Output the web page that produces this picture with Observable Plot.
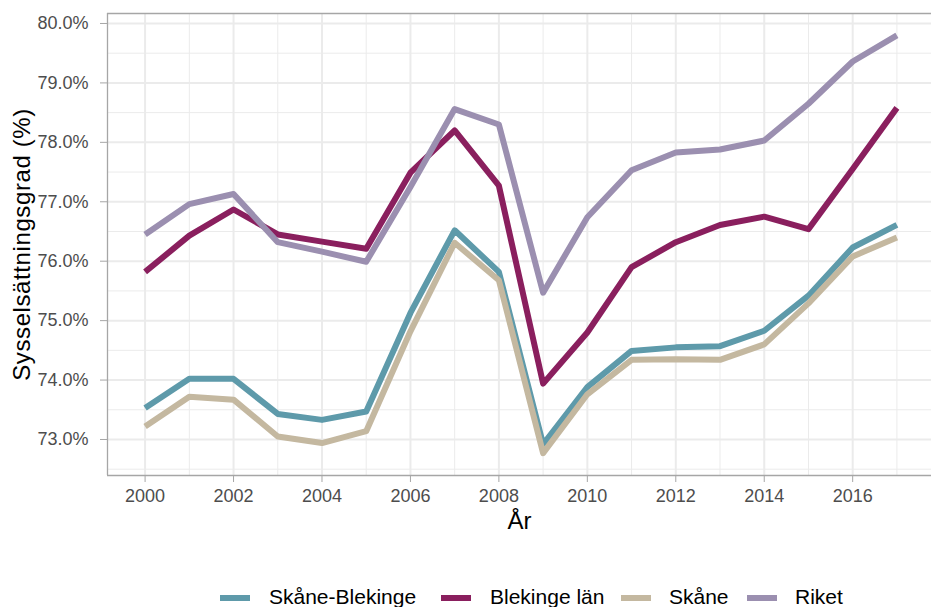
<!DOCTYPE html>
<html>
<head>
<meta charset="utf-8">
<script src="https://cdn.jsdelivr.net/npm/d3@7"></script>
<script src="https://cdn.jsdelivr.net/npm/@observablehq/plot@0.6"></script>
<style>
  html, body { margin: 0; padding: 0; background: #fff; overflow: hidden; }
  #wrap { position: relative; width: 931px; height: 607px; font-family: "Liberation Sans", Arial, sans-serif; }
  #legend { position: absolute; left: 0; top: 584px; width: 931px; height: 26px; }
  .sw { position: absolute; top: 11px; width: 30px; height: 6px; }
  .lb { position: absolute; top: 0; font-size: 21px; line-height: 26px; color: #000; white-space: nowrap; }
  .ytitle { letter-spacing: 0.6px; }
</style>
</head>
<body>
<div id="wrap"><div id="chart"></div><div id="legend"></div></div>
<script>
const years = [2000,2001,2002,2003,2004,2005,2006,2007,2008,2009,2010,2011,2012,2013,2014,2015,2016,2017];
const skaneBlekinge = [73.53,74.02,74.02,73.43,73.33,73.47,75.13,76.52,75.82,72.92,73.88,74.49,74.55,74.57,74.83,75.42,76.23,76.61];
const blekingeLan   = [75.82,76.43,76.87,76.45,76.33,76.21,77.49,78.20,77.27,73.94,74.80,75.90,76.32,76.61,76.75,76.54,77.55,78.58];
const skane         = [73.22,73.72,73.67,73.05,72.94,73.14,74.82,76.31,75.68,72.77,73.76,74.34,74.35,74.34,74.60,75.29,76.08,76.40];
const riket         = [76.45,76.96,77.13,76.32,76.16,75.99,77.25,78.56,78.30,75.47,76.74,77.53,77.83,77.88,78.03,78.65,79.36,79.80];

const seriesNames = ["Skåne-Blekinge","Blekinge län","Skåne","Riket"];
const seriesColors = ["#5e9aaa","#8a1f5e","#c4b8a0","#9b8fb0"];
const yMajor = [73,74,75,76,77,78,79,80];
const yMinor = [72.5,73.5,74.5,75.5,76.5,77.5,78.5,79.5];
const xMajor = [2000,2002,2004,2006,2008,2010,2012,2014,2016];
const xMinor = [2001,2003,2005,2007,2009,2011,2013,2015,2017];

const allSeries = [skaneBlekinge, blekingeLan, skane, riket];
const rows = [];
seriesNames.forEach((name, i) => {
  years.forEach((yr, j) => rows.push({series: name, year: yr, value: allSeries[i][j]}));
});

const xDom = [1999.15, 2017.85];
const yDom = [72.394, 80.168];
const grid = "#ebebeb";
const border = "#a6a6a6";

const chart = Plot.plot({
  width: 931,
  height: 575,
  marginLeft: 107,
  marginRight: 0,
  marginTop: 13,
  marginBottom: 100,
  style: {fontFamily: "'Liberation Sans', Arial, sans-serif", background: "#fff", overflow: "visible"},
  x: {domain: xDom, range: [107, 934], axis: null},
  y: {domain: yDom, range: [475, 13], axis: null},
  color: {domain: seriesNames, range: seriesColors},
  marks: [
    Plot.gridY(yMinor, {stroke: grid, strokeOpacity: 1, strokeWidth: 1}),
    Plot.gridX(xMinor, {stroke: grid, strokeOpacity: 1, strokeWidth: 1}),
    Plot.gridY(yMajor, {stroke: grid, strokeOpacity: 1, strokeWidth: 2}),
    Plot.gridX(xMajor, {stroke: grid, strokeOpacity: 1, strokeWidth: 2}),
    Plot.ruleX([xDom[0]], {stroke: border, strokeWidth: 1.3}),
    Plot.ruleY([yDom[0], yDom[1]], {stroke: border, strokeWidth: 1.3}),
    Plot.axisY(yMajor, {tickFormat: d => d.toFixed(1) + "%", tickSize: 7, tickPadding: 12, fontSize: 18, fill: "#4d4d4d", stroke: border, strokeOpacity: 1, label: null}),
    Plot.axisX(xMajor, {tickFormat: d => String(d), tickSize: 7, tickPadding: 7, fontSize: 18, fill: "#4d4d4d", stroke: border, strokeOpacity: 1, label: null}),
    Plot.lineY(rows, {x: "year", y: "value", z: "series", stroke: "series", strokeWidth: 6, strokeLinejoin: "round", strokeLinecap: "butt"}),
    Plot.text(["År"], {text: d => d, frameAnchor: "bottom", dy: 53, fontSize: 24, fill: "#000"}),
    Plot.text(["Sysselsättningsgrad (%)"], {text: d => d, frameAnchor: "left", textAnchor: "middle", dx: -85, rotate: -90, fontSize: 24, fill: "#000", className: "ytitle"})
  ]
});
document.getElementById("chart").appendChild(chart);

const legend = document.getElementById("legend");
const swLeft = [220, 441, 621, 747];
const lbLeft = [269, 490, 669, 795];
seriesNames.forEach((name, i) => {
  const sw = document.createElement("div");
  sw.className = "sw";
  sw.style.left = swLeft[i] + "px";
  sw.style.background = seriesColors[i];
  legend.appendChild(sw);
  const lb = document.createElement("div");
  lb.className = "lb";
  lb.style.left = lbLeft[i] + "px";
  lb.textContent = name;
  legend.appendChild(lb);
});
</script>
</body>
</html>
